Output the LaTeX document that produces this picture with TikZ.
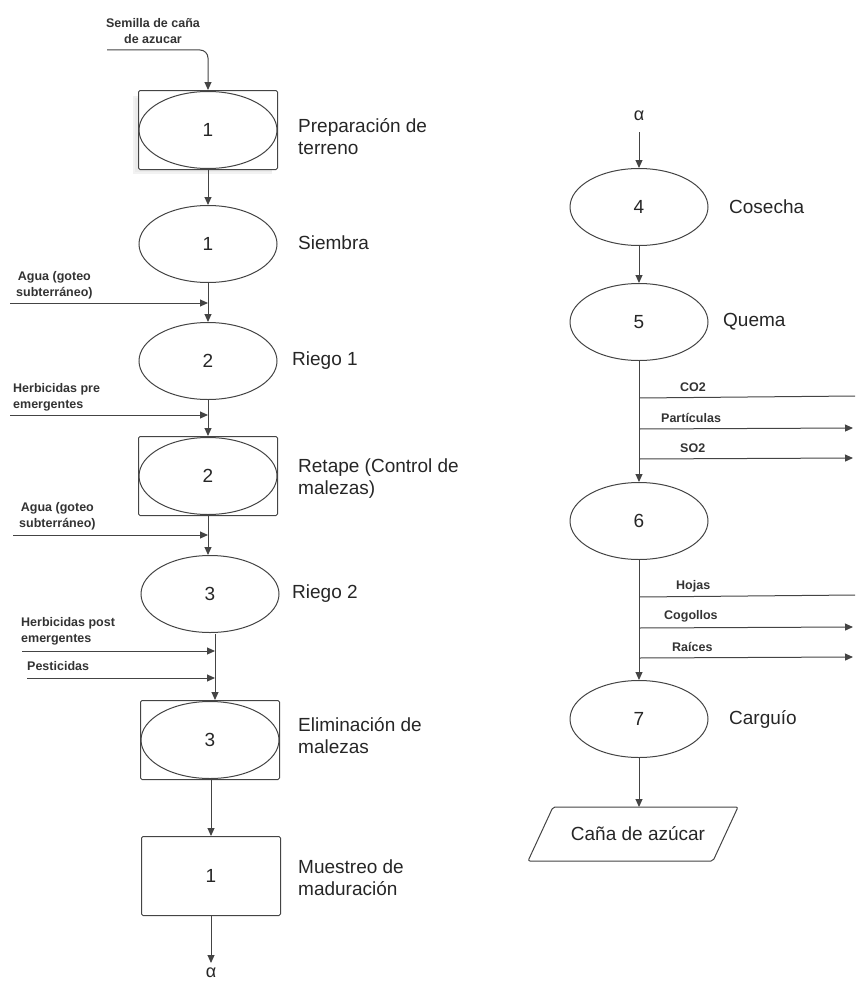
\documentclass[tikz,border=0pt]{standalone}
\usepackage{fontspec}
\setmainfont{Liberation Sans}
\usetikzlibrary{arrows.meta,shapes.geometric}
\definecolor{ln}{HTML}{444444}
\definecolor{tx}{HTML}{333333}
\begin{document}
\begin{tikzpicture}[x=1pt,y=-1pt,
  proc/.style={ellipse, draw=ln, line width=1pt, minimum width=138pt, minimum height=77pt, inner sep=0pt, font=\fontsize{19}{22}\selectfont, text=black!85},
  boxed/.style={draw=ln, line width=1pt, rounded corners=1.5pt, minimum width=139pt, minimum height=79pt, inner sep=0pt, font=\fontsize{19}{22}\selectfont, text=black!85},
  lbl/.style={anchor=west, align=left, inner sep=0pt, font=\fontsize{19}{22}\selectfont, text=black!85},
  inlbl/.style={anchor=west, align=left, inner sep=0pt, font=\bfseries\fontsize{12.5}{16}\selectfont, text=tx},
  wire/.style={draw=ln, line width=1pt},
  arr/.style={draw=ln, line width=1pt, -{Triangle[length=8pt,width=7pt]}}
]
\useasboundingbox (0,0) rectangle (855,982);

% ---------------- left column ----------------
\fill[black!5] (133,96) rectangle (272,174);
\fill[black!8] (135,98) rectangle (272,172);
\node[boxed, fill=white] (b1) at (208,130) {};
\node[proc] (p1) at (208,130) {1};
\node[lbl] (l1) at (298,137) {Preparación de\\terreno};

\node[inlbl, align=center, anchor=center] (in0) at (153,31) {Semilla de caña\\de azucar};
\coordinate (s0) at (107,50);
\draw[arr, rounded corners=8pt] (s0) -- (208,50) -- (b1.north);

\node[proc] (p2) at (208,244) {1};
\node[lbl] (l2) at (298,243) {Siembra};
\draw[arr] (b1.south) -- (p2.north);

\node[proc] (p3) at (208,361) {2};
\node[lbl] (l3) at (292,361) {Riego 1};
\draw[arr] (p2.south) -- (p3.north);
\node[inlbl, align=center] (in1) at (16,285) {Agua (goteo\\subterráneo)};
\coordinate (a1s) at (10,303);
\coordinate (a1e) at (208,303);
\draw[arr] (a1s) -- (a1e);

\node[boxed] (b4) at (208,476) {};
\node[proc] (p4) at (208,476) {2};
\node[lbl] (l4) at (298,479) {Retape (Control de\\malezas)};
\draw[arr] (p3.south) -- (b4.north);
\node[inlbl] (in2) at (13,397) {Herbicidas pre\\emergentes};
\coordinate (a2s) at (10,415);
\coordinate (a2e) at (208,415);
\draw[arr] (a2s) -- (a2e);

\node[proc] (p5) at (210,594) {3};
\node[lbl] (l5) at (292,594) {Riego 2};
\draw[arr] (b4.south) -- (b4.south |- p5.north);
\node[inlbl, align=center] (in3) at (19,516) {Agua (goteo\\subterráneo)};
\coordinate (a3s) at (13,535);
\coordinate (a3e) at (208,535);
\draw[arr] (a3s) -- (a3e);

\node[boxed] (b6) at (210,740) {};
\node[proc] (p6) at (210,740) {3};
\node[lbl] (l6) at (298,736) {Eliminación de\\malezas};
\coordinate (v6) at (215,634);
\coordinate (v6b) at (215,700);
\draw[arr] (v6) -- (v6b);
\node[inlbl] (in4) at (21,631) {Herbicidas post\\emergentes};
\coordinate (a4s) at (22,651);
\coordinate (a4e) at (215,651);
\draw[arr] (a4s) -- (a4e);
\node[inlbl] (in5) at (27,666) {Pesticidas};
\coordinate (a5s) at (27,678);
\coordinate (a5e) at (215,678);
\draw[arr] (a5s) -- (a5e);

\node[boxed] (b7) at (211,876) {1};
\node[lbl] (l7) at (298,878) {Muestreo de\\maduración};
\draw[arr] (b7.north |- b6.south) -- (b7.north);
\node[inner sep=0pt, font=\fontsize{18}{20}\selectfont, text=black!85] (al1) at (211,973) {α};
\coordinate (al1t) at (211,963);
\draw[arr] (b7.south) -- (al1t);

% ---------------- right column ----------------
\node[inner sep=0pt, font=\fontsize{18}{20}\selectfont, text=black!85] (al2) at (639,116) {α};
\coordinate (al2b) at (639,132);
\node[proc] (q4) at (639,207) {4};
\node[lbl] (r4) at (729,207) {Cosecha};
\draw[arr] (al2b) -- (q4.north);

\node[proc] (q5) at (639,322) {5};
\node[lbl] (r5) at (723,322) {Quema};
\draw[arr] (q4.south) -- (q5.north);

\node[proc] (q6) at (639,521) {6};
\draw[arr] (q5.south) -- (q6.north);
\coordinate (o1) at (639,398);
\coordinate (o1e) at (855,396);
\coordinate (o2) at (639,429);
\coordinate (o2e) at (853,428);
\coordinate (o3) at (639,459);
\coordinate (o3e) at (853,458);
\draw[wire] (o1) -- (o1e);
\draw[arr] (o2) -- (o2e);
\draw[arr] (o3) -- (o3e);
\node[inlbl] (t1) at (680,387) {CO2};
\node[inlbl] (t2) at (661,418) {Partículas};
\node[inlbl] (t3) at (680,448) {SO2};

\node[proc] (q7) at (639,719) {7};
\node[lbl] (r7) at (729,719) {Carguío};
\draw[arr] (q6.south) -- (q7.north);
\coordinate (o4) at (639,597);
\coordinate (o4e) at (855,595);
\coordinate (o5) at (639,628);
\coordinate (o5e) at (853,627);
\coordinate (o6) at (639,658);
\coordinate (o6e) at (853,657);
\draw[wire] (o4) -- (o4e);
\draw[arr] (o5) -- (o5e);
\draw[arr] (o6) -- (o6e);
\node[inlbl] (t4) at (676,586) {Hojas};
\node[inlbl] (t5) at (664,616) {Cogollos};
\node[inlbl] (t6) at (672,647) {Raíces};

\draw[draw=ln, line width=1pt, rounded corners=2pt] (553,807) -- (738,807) -- (713,861) -- (528,861) -- cycle;
\node[inner sep=0pt, font=\fontsize{19}{22}\selectfont, text=black!85] (out) at (638,834) {Caña de azúcar};
\coordinate (outtop) at (639,807);
\draw[arr] (q7.south) -- (outtop);
\end{tikzpicture}
\end{document}
